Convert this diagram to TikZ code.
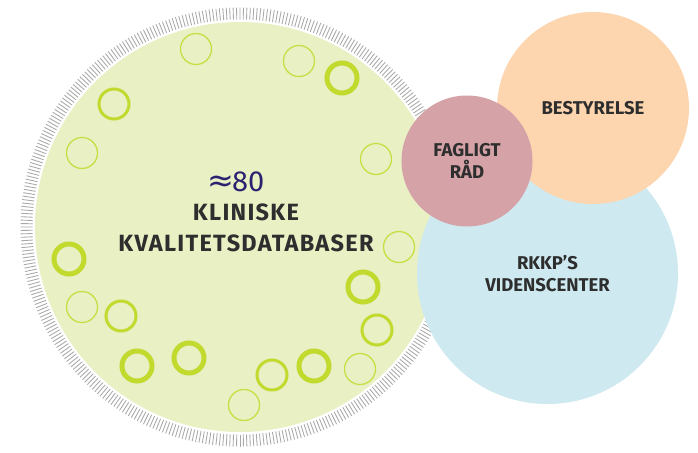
\documentclass[tikz,border=0pt]{standalone}
\usepackage{fontspec}
\setmainfont{Fira Sans}
\newfontfamily\symfont{DejaVu Sans}
\newfontfamily\widefont[LetterSpace=5.5]{Fira Sans}
\definecolor{greenfill}{HTML}{E8F0C4}
\definecolor{lime}{HTML}{C2D92E}
\definecolor{limethin}{HTML}{C8DE45}
\definecolor{tickgray}{HTML}{A8A8A8}
\definecolor{bluefill}{HTML}{CEEAF0}
\definecolor{orangefill}{HTML}{FDD5AE}
\definecolor{pinkfill}{HTML}{D5A3A7}
\definecolor{textdark}{HTML}{2E2E2E}
\definecolor{navy}{HTML}{2A2170}
\tikzset{
  bigcircle/.style={circle, inner sep=0pt, draw=none},
  ringthin/.style={circle, inner sep=0pt, draw=limethin, line width=1.3pt, minimum size=31pt},
  ringmed/.style={circle, inner sep=0pt, draw=lime, line width=3pt, minimum size=30pt},
  ringthick/.style={circle, inner sep=0pt, draw=lime, line width=5pt, minimum size=30pt},
  label/.style={text=textdark, font=\bfseries\fontsize{18.5}{22.7}\selectfont, align=center, inner sep=0pt},
  biglabel/.style={text=textdark, font=\widefont\bfseries\fontsize{23.5}{31}\selectfont, align=center, inner sep=0pt},
}
\begin{document}
\begin{tikzpicture}[x=1pt,y=-1pt]
\useasboundingbox (0,0) rectangle (698,452);
\fill[white] (0,0) rectangle (698,452);
% main green circle
\node[bigcircle, fill=greenfill, minimum size=410pt] (klin) at (240,227) {};
\foreach \a in {0,0.9,...,359.5}
  \draw[tickgray, line width=0.85pt] (klin.center) ++(\a:207.5) -- ++(\a:12);
% small rings
\node[ringthin]  (c1)  at (196,49)  {};
\node[ringthin]  (c2)  at (299,61)  {};
\node[ringthick] (c3)  at (342,78)  {};
\node[ringmed]   (c4)  at (114,104) {};
\node[ringthin]  (c5)  at (82,153)  {};
\node[ringthin]  (c6)  at (376,159) {};
\node[ringthin]  (c7)  at (399,247) {};
\node[ringthick] (c8)  at (69,259)  {};
\node[ringthick] (c9)  at (363,287) {};
\node[ringthin]  (c10) at (82,307)  {};
\node[ringmed]   (c11) at (121,316) {};
\node[ringmed]   (c12) at (377,330) {};
\node[ringthick] (c13) at (137,366) {};
\node[ringthick] (c14) at (189,358) {};
\node[ringmed]   (c15) at (272,375) {};
\node[ringthick] (c16) at (314,366) {};
\node[ringthin]  (c17) at (360,369) {};
\node[ringthin]  (c18) at (244,405) {};
% texts in green circle
\node[text=navy, font=\fontsize{29}{29}\selectfont, inner sep=0pt] (n80) at (236,182) {{\symfont\fontsize{32}{32}\selectfont ≈}\kern-2.5pt 80};
\node[biglabel] (kl) at (246,227.5) {KLINISKE\\KVALITETSDATABASER};
% right circles
\node[bigcircle, fill=bluefill, minimum size=261pt, label] (vid) at (547.5,273.5) {RKKP’S\\VIDENSCENTER};
\node[bigcircle, fill=orangefill, minimum size=192pt, label] (best) at (593,108) {BESTYRELSE};
\node[bigcircle, fill=pinkfill, minimum size=131pt, label] (fag) at (467,161) {FAGLIGT\\RÅD};
\end{tikzpicture}
\end{document}
